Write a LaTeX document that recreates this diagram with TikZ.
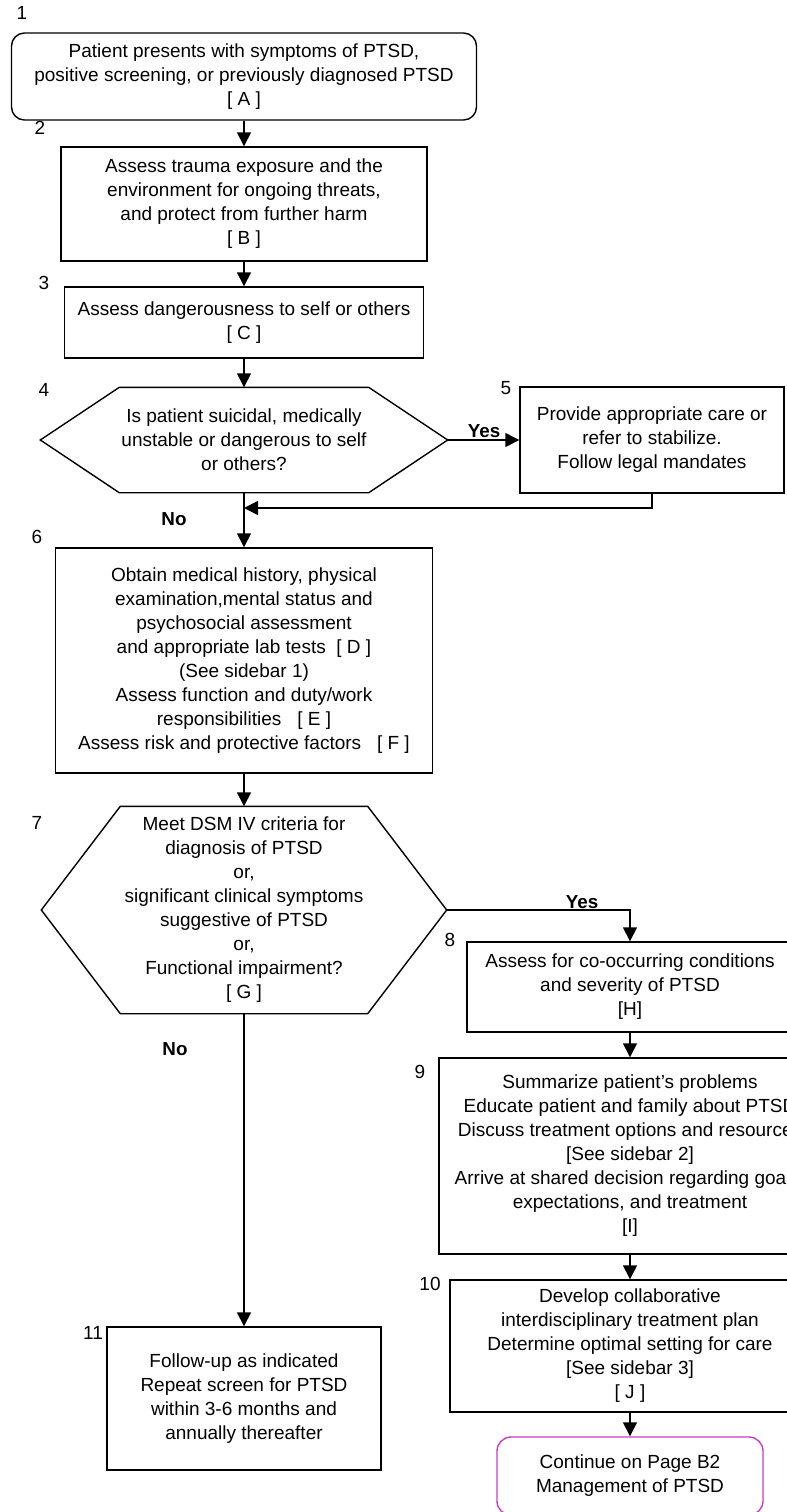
\documentclass[tikz,border=0pt]{standalone}
\usepackage{fontspec}
\setmainfont{Liberation Sans}
\usetikzlibrary{arrows.meta}

\definecolor{suite}{RGB}{200,60,200}

\tikzset{
    trait/.style={line width=.7pt},
    boite/.style 2 args={trait,align=center,inner sep=0pt,
        minimum width=#1*.5pt,minimum height=#2*.5pt},
    fleche/.style={trait,-{Triangle[length=7pt,width=7pt]}},
    numero/.style={inner sep=0pt},
    choix/.style={inner sep=0pt,font=\fontsize{9.4pt}{12pt}\selectfont\bfseries},
}

% hexagone de decision autour d'un noeud
\newcommand\hexagone[2]{%
    \draw[trait] (#1.west) -- ([xshift=#2]#1.north west) -- ([xshift=-#2]#1.north east)
        -- (#1.east) -- ([xshift=-#2]#1.south east) -- ([xshift=#2]#1.south west) -- cycle;}

\begin{document}
\begin{tikzpicture}[x=.5pt,y=.5pt,font=\fontsize{9.5pt}{12pt}\selectfont]
    \useasboundingbox (0,0) rectangle (787,-1512);
    \clip (0,0) rectangle (787,-1512);
    % colonne de gauche
    \node[draw,rounded corners=6.5pt,boite={465}{87}] (b1) at (244,-76.5)
        {Patient presents with symptoms of PTSD,\\positive screening, or previously diagnosed PTSD\\{[ A ]}};
    \node[draw,boite={366}{114}] (b2) at (244,-204)
        {Assess trauma exposure and the\\environment for ongoing threats,\\and protect from further harm\\{[ B ]}};
    \node[draw,boite={359}{71}] (b3) at (244,-322.5)
        {Assess dangerousness to self or others\\{[ C ]}};
    \node[boite={406}{104}] (h4) at (244,-440)
        {Is patient suicidal, medically\\unstable or dangerous to self\\or others?};
    \hexagone{h4}{39.5pt}
    \node[draw,boite={264}{106}] (b5) at (652,-440)
        {Provide appropriate care or\\refer to stabilize.\\Follow legal mandates};
    \node[draw,boite={377}{225}] (b6) at (244,-660.5)
        {Obtain medical history, physical\\examination,mental status and\\psychosocial assessment\\
         and appropriate lab tests~~[ D ]\\(See sidebar 1)\\Assess function and duty/work\\
         responsibilities~~~[ E ]\\Assess risk and protective factors~~~[ F ]};
    \node[boite={404}{206}] (h7) at (244,-910)
        {Meet DSM IV criteria for\\diagnosis of PTSD\\or,\\significant clinical symptoms\\
         suggestive of PTSD\\or,\\Functional impairment?\\{[ G ]}};
    \hexagone{h7}{39.5pt}
    \node[draw,boite={274}{143}] (b11) at (244,-1398.5)
        {Follow-up as indicated\\Repeat screen for PTSD\\within 3-6 months and\\annually thereafter};
    % colonne de droite
    \node[draw,boite={326}{90}] (b8) at (630,-987)
        {Assess for co-occurring conditions\\and severity of PTSD\\{[H]}};
    \node[draw,boite={382}{196}] (b9) at (630,-1156)
        {Summarize patient's problems\\Educate patient and family about PTSD\\
         Discuss treatment options and resources\\{[See sidebar 2]}\\
         Arrive at shared decision regarding goals,\\expectations, and treatment\\{[I]}};
    \node[draw,boite={360}{132}] (b10) at (630,-1346)
        {Develop collaborative\\interdisciplinary treatment plan\\Determine optimal setting for care\\
         {[See sidebar 3]}\\{[ J ]}};
    \node[draw=suite,rounded corners=7pt,boite={266}{78}] (suite) at (630,-1476)
        {Continue on Page B2\\Management of PTSD};
    % numeros
    \node[numero] (n1) at (22,-13) {1};
    \node[numero] (n2) at (40,-128) {2};
    \node[numero] (n3) at (44,-283) {3};
    \node[numero] (n4) at (44,-390) {4};
    \node[numero] (n5) at (506,-388) {5};
    \node[numero] (n6) at (37,-537) {6};
    \node[numero] (n7) at (37,-823) {7};
    \node[numero] (n8) at (450,-940) {8};
    \node[numero] (n9) at (420,-1072) {9};
    \node[numero] (n10) at (430,-1284) {10};
    \node[numero] (n11) at (93,-1333) {11};
    % fleches
    \draw[fleche] (b1) -- (b2);
    \draw[fleche] (b2) -- (b3);
    \draw[fleche] (b3) -- (h4.north);
    \draw[fleche] (h4.east) -- (b5.west);
    \node[choix] (oui4) at (484,-431) {Yes};
    \coordinate (retour) at (244,-508);
    \draw[trait] (h4.south) -- (retour);
    \draw[fleche] (b5.south) |- (retour);
    \draw[fleche] (retour) -- (b6.north);
    \node[choix] (non4) at (174,-519) {No};
    \draw[fleche] (b6) -- (h7.north);
    \draw[fleche] (h7.east) -| (b8.north);
    \node[choix] (oui7) at (582,-902) {Yes};
    \draw[fleche] (h7.south) -- (b11.north);
    \node[choix] (non7) at (175,-1049) {No};
    \draw[fleche] (b8) -- (b9);
    \draw[fleche] (b9) -- (b10);
    \draw[fleche] (b10) -- (suite);
\end{tikzpicture}
\end{document}
